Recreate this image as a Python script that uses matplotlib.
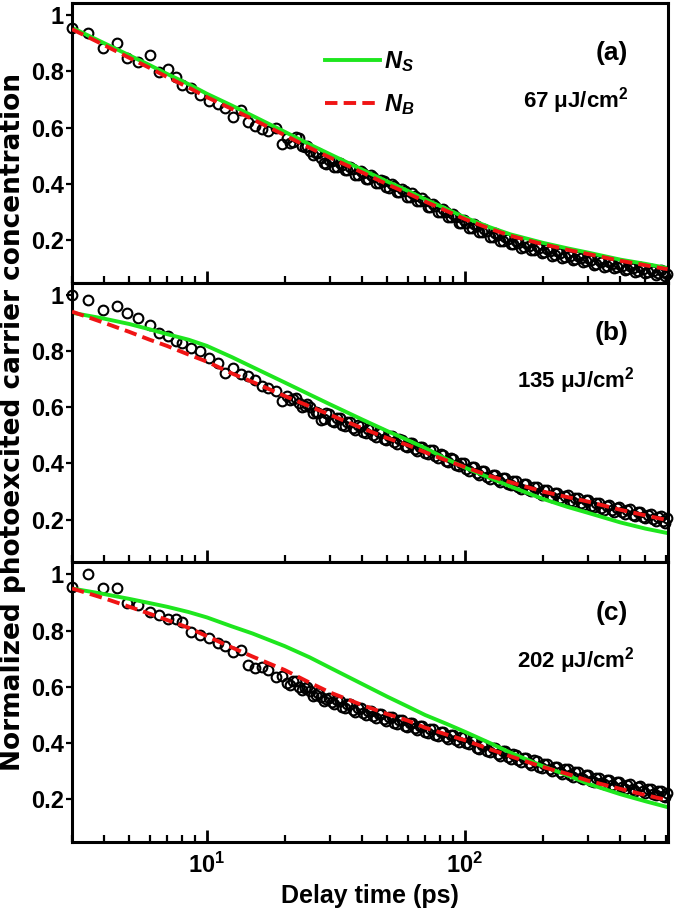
import numpy as np
import matplotlib
matplotlib.use('Agg')
import matplotlib.pyplot as plt
from matplotlib.ticker import FixedLocator, LogLocator, NullFormatter

plt.rcParams['font.family'] = ['Liberation Sans', 'DejaVu Sans']
plt.rcParams['font.weight'] = 'bold'
plt.rcParams['axes.labelweight'] = 'bold'
plt.rcParams['mathtext.fontset'] = 'custom'
plt.rcParams['mathtext.rm'] = 'Liberation Sans:bold'
plt.rcParams['mathtext.it'] = 'Liberation Sans:italic:bold'
plt.rcParams['mathtext.bf'] = 'Liberation Sans:bold'

# measured delay times (ps), shared by the three fluences
t = [3.0, 3.45, 3.95, 4.5, 4.9, 5.4, 6.0, 6.5, 7.05, 7.6,
     8.0, 8.7, 9.4, 10.2, 11.0, 11.8, 12.6, 13.5, 14.4, 15.3,
     16.3, 17.3, 18.5, 19.5, 20.5, 21.5, 22.7, 23.9, 25.1, 26.4,
     27.7, 29.0, 30.5, 32.0, 33.5, 35.0, 36.7, 38.5, 40.3, 42.2,
     44.2, 46.3, 48.5, 50.8, 53.2, 55.7, 58.3, 61.0, 63.9, 66.9,
     70.0, 73.3, 76.8, 80.4, 84.2, 88.2, 92.3, 96.7, 101, 106,
     111, 116, 122, 128, 134, 140, 147, 154, 161, 169,
     177, 185, 194, 203, 213, 223, 233, 244, 256, 268,
     281, 294, 308, 322, 338, 354, 370, 388, 406, 425,
     446, 467, 489, 512, 536, 561, 588, 605]

# the interleaved samples of the dense tail
t2 = [21.0, 22.1, 23.3, 24.5, 25.7, 27.0, 28.3, 29.7, 31.2, 32.7,
      34.2, 35.8, 37.6, 39.4, 41.2, 43.2, 45.2, 47.4, 49.6, 52.0,
      54.4, 57.0, 59.6, 62.4, 65.4, 68.4, 71.6, 75.0, 78.6, 82.3,
      86.2, 90.2, 94.5, 98.8, 103.5, 108.5, 113.5, 119, 125, 131,
      137, 143.5, 150.5, 157.5, 165, 173, 181, 189.5, 198.5, 208,
      218, 228, 238.5, 250, 262, 274.5, 287.5, 301, 315, 330,
      346, 362, 379, 397, 415.5, 435.5, 456.5, 478, 500.5, 524,
      548.5, 574.5, 597]

data_a = [0.955, 0.936, 0.882, 0.900, 0.846, 0.832, 0.857, 0.797, 0.810, 0.780,
          0.752, 0.740, 0.714, 0.696, 0.683, 0.670, 0.636, 0.662, 0.618, 0.607,
          0.596, 0.588, 0.600, 0.543, 0.564, 0.548, 0.561, 0.530, 0.518, 0.508,
          0.493, 0.472, 0.480, 0.458, 0.468, 0.448, 0.452, 0.432, 0.438, 0.418,
          0.424, 0.402, 0.408, 0.386, 0.392, 0.370, 0.374, 0.354, 0.358, 0.338,
          0.340, 0.318, 0.320, 0.298, 0.300, 0.280, 0.282, 0.262, 0.262, 0.243,
          0.248, 0.228, 0.232, 0.212, 0.216, 0.198, 0.202, 0.186, 0.190, 0.175,
          0.180, 0.166, 0.170, 0.156, 0.160, 0.147, 0.152, 0.139, 0.144, 0.132,
          0.136, 0.124, 0.128, 0.116, 0.121, 0.109, 0.114, 0.103, 0.108, 0.097,
          0.101, 0.091, 0.095, 0.086, 0.090, 0.081, 0.086, 0.080]
data_a2 = [0.546, 0.565, 0.536, 0.534, 0.503, 0.511, 0.473, 0.486, 0.459, 0.473,
           0.448, 0.460, 0.432, 0.445, 0.418, 0.431, 0.403, 0.415, 0.387, 0.399,
           0.371, 0.382, 0.354, 0.366, 0.338, 0.349, 0.319, 0.329, 0.299, 0.309,
           0.280, 0.291, 0.262, 0.272, 0.243, 0.256, 0.228, 0.240, 0.212, 0.224,
           0.197, 0.210, 0.184, 0.198, 0.173, 0.188, 0.163, 0.178, 0.153, 0.168,
           0.144, 0.160, 0.136, 0.152, 0.128, 0.144, 0.120, 0.136, 0.112, 0.129,
           0.105, 0.122, 0.099, 0.116, 0.093, 0.109, 0.086, 0.103, 0.081, 0.098,
           0.076, 0.094, 0.073]

data_b = [1.000, 0.980, 0.947, 0.960, 0.936, 0.918, 0.893, 0.865, 0.854, 0.836,
          0.830, 0.812, 0.800, 0.776, 0.758, 0.722, 0.740, 0.718, 0.712, 0.697,
          0.676, 0.668, 0.658, 0.623, 0.640, 0.630, 0.615, 0.605, 0.600, 0.582,
          0.556, 0.578, 0.550, 0.562, 0.538, 0.548, 0.525, 0.535, 0.512, 0.522,
          0.500, 0.510, 0.488, 0.498, 0.475, 0.486, 0.462, 0.472, 0.450, 0.458,
          0.438, 0.446, 0.425, 0.432, 0.410, 0.418, 0.396, 0.402, 0.380, 0.388,
          0.366, 0.374, 0.352, 0.360, 0.340, 0.348, 0.328, 0.336, 0.316, 0.325,
          0.306, 0.316, 0.294, 0.304, 0.284, 0.294, 0.276, 0.285, 0.266, 0.276,
          0.258, 0.268, 0.250, 0.258, 0.240, 0.250, 0.234, 0.242, 0.226, 0.234,
          0.218, 0.226, 0.210, 0.218, 0.202, 0.210, 0.194, 0.204]
data_b2 = [0.625, 0.632, 0.600, 0.612, 0.581, 0.579, 0.557, 0.574, 0.546, 0.560,
           0.533, 0.546, 0.520, 0.533, 0.507, 0.521, 0.495, 0.509, 0.483, 0.496,
           0.470, 0.484, 0.457, 0.471, 0.444, 0.458, 0.432, 0.446, 0.418, 0.431,
           0.404, 0.417, 0.389, 0.401, 0.374, 0.387, 0.360, 0.373, 0.346, 0.360,
           0.334, 0.348, 0.322, 0.336, 0.310, 0.326, 0.301, 0.315, 0.289, 0.304,
           0.279, 0.295, 0.270, 0.286, 0.261, 0.277, 0.253, 0.269, 0.244, 0.259,
           0.235, 0.252, 0.228, 0.244, 0.220, 0.236, 0.212, 0.228, 0.204, 0.220,
           0.196, 0.212, 0.189]

data_c = [0.955, 1.000, 0.950, 0.950, 0.900, 0.890, 0.865, 0.854, 0.843, 0.840,
          0.830, 0.795, 0.783, 0.773, 0.755, 0.745, 0.723, 0.730, 0.677, 0.666,
          0.672, 0.659, 0.634, 0.640, 0.613, 0.620, 0.599, 0.595, 0.585, 0.570,
          0.565, 0.555, 0.545, 0.552, 0.530, 0.538, 0.518, 0.526, 0.506, 0.514,
          0.496, 0.502, 0.484, 0.492, 0.472, 0.482, 0.462, 0.470, 0.452, 0.460,
          0.440, 0.450, 0.430, 0.438, 0.420, 0.428, 0.410, 0.420, 0.400, 0.410,
          0.384, 0.394, 0.372, 0.382, 0.360, 0.370, 0.350, 0.360, 0.338, 0.348,
          0.328, 0.338, 0.316, 0.326, 0.306, 0.316, 0.296, 0.306, 0.286, 0.296,
          0.276, 0.286, 0.266, 0.276, 0.258, 0.268, 0.250, 0.260, 0.242, 0.252,
          0.236, 0.244, 0.228, 0.236, 0.220, 0.228, 0.212, 0.222]
data_c2 = [0.606, 0.620, 0.587, 0.600, 0.567, 0.578, 0.550, 0.560, 0.538, 0.551,
           0.524, 0.538, 0.512, 0.526, 0.500, 0.515, 0.489, 0.503, 0.478, 0.492,
           0.467, 0.482, 0.456, 0.471, 0.446, 0.460, 0.435, 0.450, 0.424, 0.439,
           0.414, 0.429, 0.405, 0.420, 0.395, 0.407, 0.379, 0.393, 0.367, 0.381,
           0.355, 0.370, 0.345, 0.359, 0.333, 0.348, 0.323, 0.337, 0.311, 0.326,
           0.301, 0.316, 0.291, 0.306, 0.281, 0.296, 0.271, 0.286, 0.261, 0.277,
           0.253, 0.269, 0.245, 0.261, 0.237, 0.254, 0.230, 0.246, 0.222, 0.238,
           0.214, 0.230, 0.207]

# model curves
t_fit = [3, 4, 5, 6, 7, 8.5, 10, 12.5, 15, 20, 25, 30, 40, 50, 60, 70,
         85, 100, 125, 150, 200, 250, 300, 400, 500, 610]

ns_a = [0.955, 0.900, 0.857, 0.822, 0.791, 0.754, 0.720, 0.678, 0.642, 0.585,
        0.540, 0.505, 0.450, 0.408, 0.375, 0.345, 0.310, 0.280, 0.245, 0.220,
        0.190, 0.170, 0.155, 0.130, 0.115, 0.100]
nb_a = [0.950, 0.893, 0.848, 0.812, 0.780, 0.742, 0.708, 0.666, 0.630, 0.573,
        0.528, 0.493, 0.440, 0.398, 0.366, 0.337, 0.303, 0.274, 0.240, 0.215,
        0.185, 0.165, 0.150, 0.126, 0.110, 0.096]

ns_b = [0.936, 0.915, 0.896, 0.877, 0.860, 0.840, 0.818, 0.778, 0.743, 0.688,
        0.645, 0.610, 0.556, 0.515, 0.483, 0.455, 0.415, 0.385, 0.348, 0.318,
        0.274, 0.245, 0.224, 0.190, 0.168, 0.152]
nb_b = [0.940, 0.900, 0.868, 0.840, 0.818, 0.787, 0.762, 0.720, 0.690, 0.640,
        0.603, 0.573, 0.525, 0.490, 0.465, 0.440, 0.410, 0.387, 0.355, 0.333,
        0.300, 0.280, 0.264, 0.235, 0.215, 0.198]

ns_c = [0.950, 0.930, 0.913, 0.898, 0.885, 0.866, 0.847, 0.815, 0.790, 0.745,
        0.705, 0.668, 0.610, 0.565, 0.530, 0.500, 0.468, 0.440, 0.400, 0.366,
        0.318, 0.285, 0.255, 0.218, 0.193, 0.172]
nb_c = [0.950, 0.915, 0.885, 0.860, 0.838, 0.810, 0.780, 0.740, 0.708, 0.660,
        0.615, 0.580, 0.535, 0.503, 0.480, 0.455, 0.430, 0.410, 0.378, 0.353,
        0.315, 0.290, 0.266, 0.237, 0.215, 0.197]

panel_tags = ['(a)', '(b)', '(c)']
fluences = [r'67 $\mathrm{\mu}$J/cm$^{2}$', r'135 $\mathrm{\mu}$J/cm$^{2}$',
            r'202 $\mathrm{\mu}$J/cm$^{2}$']

datasets = [data_a, data_b, data_c]
datasets2 = [data_a2, data_b2, data_c2]
ns_curves = [ns_a, ns_b, ns_c]
nb_curves = [nb_a, nb_b, nb_c]

fig, axes = plt.subplots(3, 1, sharex=True, figsize=(6.75, 9.16), dpi=100)
fig.subplots_adjust(left=0.1067, right=0.9896, top=0.9967, bottom=0.0808, hspace=0)

for i, ax in enumerate(axes):
    ax.plot(t, datasets[i], 'o', mfc='none', mec='k', ms=7, mew=1.5,
            clip_on=False, zorder=1)
    ax.plot(t2, datasets2[i], 'o', mfc='none', mec='k', ms=7, mew=1.5,
            clip_on=False, zorder=1)
    l_s, = ax.plot(t_fit, ns_curves[i], '-', color='#1ee61e', lw=2.8, zorder=2,
                   label='$N_S$')
    l_b, = ax.plot(t_fit, nb_curves[i], '--', color='#f01414', lw=2.8, zorder=3,
                   dashes=(3.2, 1.6), label='$N_B$')

    ax.set_xscale('log')
    ax.set_xlim(3.0, 612)
    ax.set_ylim(0.048, 1.043)
    ax.set_yticks([0.2, 0.4, 0.6, 0.8, 1.0])
    ax.set_yticklabels(['0.2', '0.4', '0.6', '0.8', '1'])
    ax.xaxis.set_major_locator(FixedLocator([10, 100]))
    ax.xaxis.set_minor_locator(LogLocator(base=10, subs=np.arange(2, 10)))
    ax.xaxis.set_minor_formatter(NullFormatter())
    ax.tick_params(axis='x', which='major', direction='in', length=9, width=2)
    ax.tick_params(axis='x', which='minor', direction='in', length=5, width=1.6)
    ax.tick_params(axis='y', direction='out', length=4, width=1.6, pad=2,
                   labelsize=17)
    for sp in ax.spines.values():
        sp.set_linewidth(2.2)

    ax.text(0.906, 0.82, panel_tags[i], transform=ax.transAxes, fontsize=19,
            ha='center', va='center')
    ax.text(0.845, 0.65, fluences[i], transform=ax.transAxes, fontsize=16,
            ha='center', va='center')

    if i == 0:
        ax.legend(handles=[l_s, l_b], loc='upper left', bbox_to_anchor=(0.425, 0.835),
                  frameon=False, fontsize=17, handlelength=2.3, handletextpad=0.2,
                  labelspacing=0.75, borderpad=0, borderaxespad=0)

axes[2].set_xticklabels(['$10^{1}$', '$10^{2}$'])
axes[2].tick_params(axis='x', which='major', labelsize=17, pad=8)
axes[2].set_xlabel('Delay time (ps)', fontsize=18, labelpad=4)
fig.text(0.02, 0.539, 'Normalized photoexcited carrier concentration', rotation=90,
         ha='center', va='center', fontsize=19, family='DejaVu Sans')

fig.savefig('out.png', dpi=100)
